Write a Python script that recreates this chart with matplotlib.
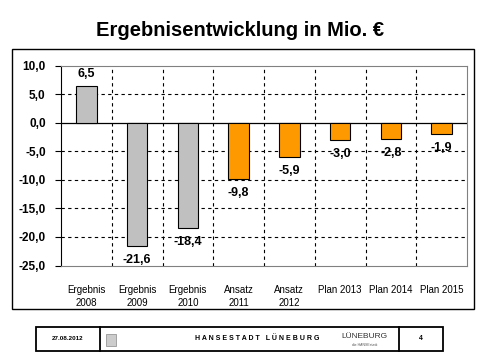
import matplotlib
matplotlib.use("Agg")
import matplotlib.pyplot as plt
from matplotlib.patches import Rectangle

matplotlib.rcParams['font.family'] = ['Liberation Sans', 'DejaVu Sans']

categories = ["Ergebnis\n2008", "Ergebnis\n2009", "Ergebnis\n2010", "Ansatz\n2011",
              "Ansatz\n2012", "Plan 2013", "Plan 2014", "Plan 2015"]
values = [6.5, -21.6, -18.4, -9.8, -5.9, -3.0, -2.8, -1.9]
kinds = ["ist", "ist", "ist", "plan", "plan", "plan", "plan", "plan"]
yticks = [10, 5, 0, -5, -10, -15, -20, -25]

GRAY = "#C0C0C0"
ORANGE = "#FF9900"

fig = plt.figure(figsize=(4.8, 3.61), dpi=100)
ax = fig.add_axes([61 / 480, 1 - 265.5 / 361, 406 / 480, 199.5 / 361])

x = range(len(values))
colors = [GRAY if k == "ist" else ORANGE for k in kinds]
ax.bar(x, values, width=0.4, color=colors, edgecolor="black", linewidth=0.8, zorder=3)

ax.set_xlim(-0.5, len(values) - 0.5)
ax.set_ylim(-25, 10)
ax.set_yticks(yticks)
ax.set_yticklabels([("%.1f" % v).replace(".", ",") for v in yticks],
                   fontweight="bold", fontsize=8.5)
ax.set_xticks(list(x))
ax.set_xticklabels(categories, fontsize=7, linespacing=1.35)
ax.tick_params(axis="x", length=0, pad=14)
ax.tick_params(axis="y", length=4, width=0.8, pad=7)

# dashed grid
ax.set_xticks([i + 0.5 for i in range(len(values) - 1)], minor=True)
ax.tick_params(axis="x", which="minor", length=0)
ax.grid(axis="x", which="minor", color="black", linestyle=(0, (3, 3)), linewidth=0.8, zorder=1)
for yv in [5, -5, -10, -15, -20]:
    ax.axhline(yv, color="black", linestyle=(0, (3, 3)), linewidth=0.8, zorder=1)
ax.axhline(0, color="black", linewidth=0.9, zorder=2)

for side in ["top", "right", "bottom"]:
    ax.spines[side].set_color("#808080")
ax.spines["left"].set_color("black")

for i, v in enumerate(values):
    lab = ("%.1f" % v).replace(".", ",")
    if v >= 0:
        ax.annotate(lab, (i, v), xytext=(0, 4), textcoords="offset points",
                    ha="center", va="bottom", fontweight="bold", fontsize=9)
    else:
        ax.annotate(lab, (i, v), xytext=(0, -6), textcoords="offset points",
                    ha="center", va="top", fontweight="bold", fontsize=9)

fig.text(0.5, 1 - 30 / 361, "Ergebnisentwicklung in Mio. €", ha="center", va="center",
         fontsize=14.5, fontweight="bold")

# outer frame
fig.add_artist(Rectangle((12 / 480, 1 - 309 / 361), 462 / 480, 260 / 361,
                         transform=fig.transFigure, fill=False, edgecolor="black", linewidth=1))

# footer
fb, ft = 1 - 351 / 361, 1 - 327 / 361
fig.add_artist(Rectangle((36 / 480, fb), 407 / 480, ft - fb, transform=fig.transFigure,
                         fill=False, edgecolor="black", linewidth=1.3))
for xd in [100, 399]:
    fig.add_artist(plt.Line2D([xd / 480, xd / 480], [fb, ft], transform=fig.transFigure,
                              color="black", linewidth=1.3))
fym = (fb + ft) / 2
fig.text(68 / 480, fym, "27.08.2012", ha="center", va="center", fontsize=4.5, fontweight="bold")
fig.text(257 / 480, fym, "H A N S E S T A D T   L Ü N E B U R G", ha="center", va="center",
         fontsize=5, fontweight="bold")
fig.text(421 / 480, fym, "4", ha="center", va="center", fontsize=5, fontweight="bold")
fig.text(364 / 480, fym + 0.008, "LÜNEBURG", ha="center", va="center", fontsize=6,
         color="#333333")
fig.text(365 / 480, fym - 0.018, "die HANSEstadt", ha="center", va="center", fontsize=2.5,
         color="#555555")
fig.add_artist(Rectangle((106 / 480, 1 - 346 / 361), 10 / 480, 12 / 361,
                         transform=fig.transFigure, facecolor="#cccccc", edgecolor="#888888",
                         linewidth=0.5))

fig.savefig("out.png", dpi=100)
